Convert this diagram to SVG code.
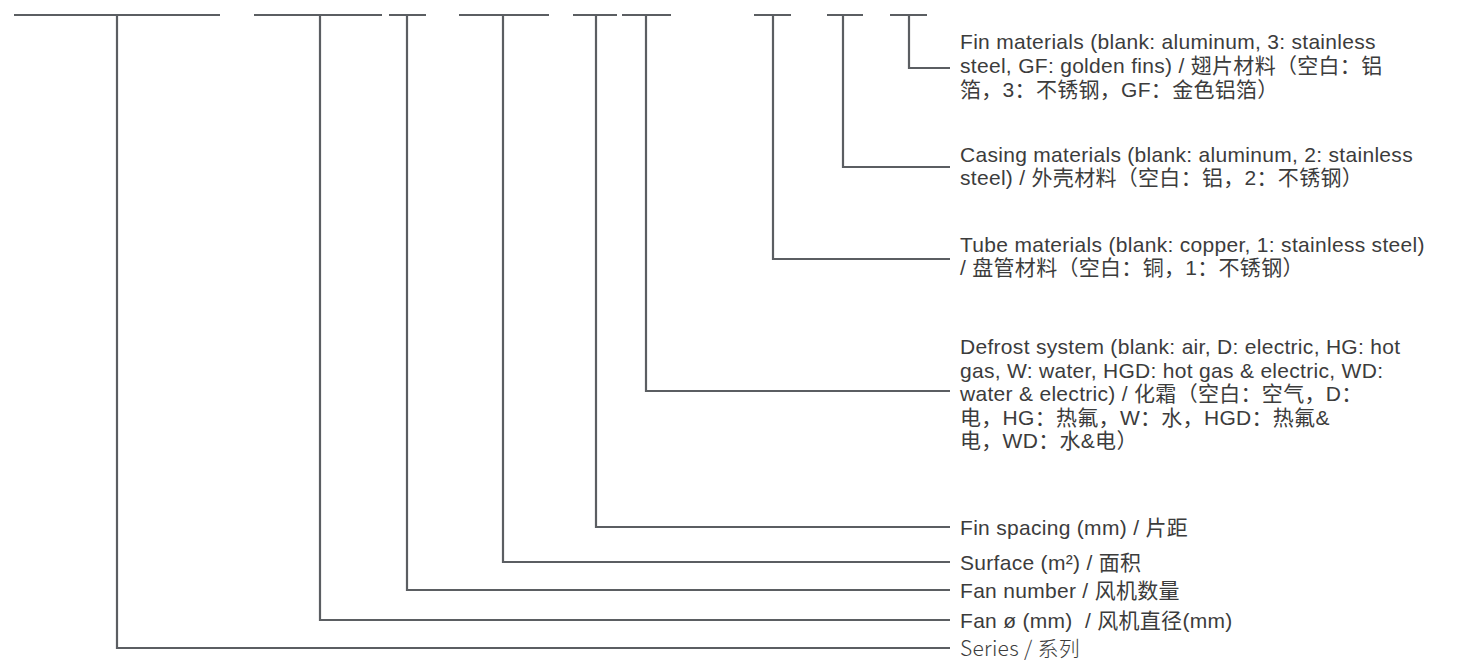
<svg xmlns="http://www.w3.org/2000/svg" width="1457" height="661" viewBox="0 0 1457 661">
<style>
.bar{stroke:#5b5e62;stroke-width:2.2;fill:none}
.ln{stroke:#5b5e62;stroke-width:2.2;fill:none}
.t{font-family:"Liberation Sans","Noto Sans CJK SC",sans-serif;font-size:21px;letter-spacing:0.3px;fill:#3c3c3c}
.s{font-family:"Noto Sans CJK SC","Liberation Sans",sans-serif;font-weight:300;font-size:21px;letter-spacing:0.3px;fill:#3c3c3c}
</style>
<rect width="1457" height="661" fill="#ffffff"/>
<g id="code-bars">
<path class="bar" d="M14 15H220M254 15H382M389 15H426M459 15H549M573 15H617M622 15H671M754 15H791M827 15H863M890 15H927"/>
</g>
<g id="connectors">
<path class="ln" d="M117 15V648H950"/>
<path class="ln" d="M320 15V620H950"/>
<path class="ln" d="M407 15V590H950"/>
<path class="ln" d="M503 15V562H950"/>
<path class="ln" d="M596 15V527H950"/>
<path class="ln" d="M646 15V391H950"/>
<path class="ln" d="M773 15V259H950"/>
<path class="ln" d="M843 15V167H950"/>
<path class="ln" d="M909 15V68H950"/>
</g>
<g id="fin-materials">
<text class="t" x="960" y="49">Fin materials (blank: aluminum, 3: stainless</text>
<text class="t" x="960" y="73">steel, GF: golden fins) / 翅片材料（空白：铝</text>
<text class="t" x="960" y="97">箔，3：不锈钢，GF：金色铝箔）</text>
</g>
<g id="casing-materials">
<text class="t" x="960" y="162">Casing materials (blank: aluminum, 2: stainless</text>
<text class="t" x="960" y="185">steel) / 外壳材料（空白：铝，2：不锈钢）</text>
</g>
<g id="tube-materials">
<text class="t" x="960" y="252">Tube materials (blank: copper, 1: stainless steel)</text>
<text class="t" x="960" y="275">/ 盘管材料（空白：铜，1：不锈钢）</text>
</g>
<g id="defrost-system">
<text class="t" x="960" y="354">Defrost system (blank: air, D: electric, HG: hot</text>
<text class="t" x="960" y="377.5">gas, W: water, HGD: hot gas &amp; electric, WD:</text>
<text class="t" x="960" y="401">water &amp; electric) / 化霜（空白：空气，D：</text>
<text class="t" x="960" y="424.5">电，HG：热氟，W：水，HGD：热氟&amp;</text>
<text class="t" x="960" y="448">电，WD：水&amp;电）</text>
</g>
<g id="fin-spacing"><text class="t" x="960" y="535">Fin spacing (mm) / 片距</text></g>
<g id="surface"><text class="t" x="960" y="570">Surface (m²) / 面积</text></g>
<g id="fan-number"><text class="t" x="960" y="598">Fan number / 风机数量</text></g>
<g id="fan-diameter"><text class="t" x="960" y="628">Fan ø (mm)&#160; / 风机直径(mm)</text></g>
<g id="series"><text class="s" x="960" y="656">Series / 系列</text></g>
</svg>
